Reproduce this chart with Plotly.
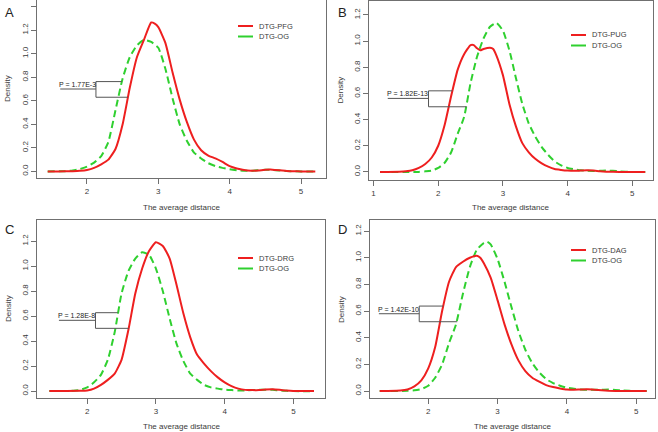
import plotly.graph_objects as go

# ---------------- data ----------------
panel_letters = ["A", "B", "C", "D"]
red_names = ["DTG-PFG", "DTG-PUG", "DTG-DRG", "DTG-DAG"]
green_name = "DTG-OG"
p_texts = ["P = 1.77E-3", "P = 1.82E-13", "P = 1.28E-8", "P = 1.42E-10"]

A_red_x = [1.45, 1.6, 1.8, 1.9, 2.0, 2.1, 2.2, 2.3, 2.4, 2.5, 2.6, 2.7, 2.8, 2.9, 2.95, 3.0, 3.1, 3.2, 3.3,
           3.4, 3.5, 3.6, 3.7, 3.8, 3.9, 4.0, 4.1, 4.2, 4.3, 4.4, 4.5, 4.6, 4.7, 4.8, 4.9, 5.0, 5.2]
A_red_y = [0, 0, 0.002, 0.005, 0.012, 0.03, 0.06, 0.10, 0.19, 0.40, 0.71, 0.97, 1.12, 1.265, 1.255, 1.225,
           1.09, 0.84, 0.61, 0.42, 0.27, 0.18, 0.135, 0.11, 0.08, 0.045, 0.025, 0.012, 0.006, 0.008, 0.014,
           0.015, 0.01, 0.004, 0.001, 0, 0]
A_grn_x = [1.45, 1.7, 1.8, 1.9, 2.0, 2.1, 2.2, 2.3, 2.4, 2.5, 2.6, 2.7, 2.8, 2.9, 3.0, 3.1, 3.2, 3.3, 3.4,
           3.5, 3.6, 3.7, 3.8, 3.9, 4.0, 4.1, 4.2, 4.3, 4.4, 4.5, 4.6, 4.7, 4.8, 5.0, 5.2]
A_grn_y = [0, 0.002, 0.008, 0.02, 0.04, 0.075, 0.13, 0.25, 0.52, 0.79, 0.97, 1.07, 1.117, 1.10, 1.05, 0.87,
           0.62, 0.40, 0.26, 0.16, 0.11, 0.07, 0.045, 0.03, 0.018, 0.01, 0.006, 0.006, 0.01, 0.014, 0.012,
           0.008, 0.003, 0, 0]

B_red_x = [1.1, 1.4, 1.5, 1.6, 1.7, 1.8, 1.9, 2.0, 2.1, 2.2, 2.3, 2.4, 2.5, 2.55, 2.6, 2.65, 2.7, 2.8, 2.85,
           2.9, 3.0, 3.1, 3.2, 3.3, 3.4, 3.5, 3.6, 3.7, 3.8, 3.9, 4.0, 4.1, 4.2, 4.3, 4.4, 4.5, 4.6, 4.8, 5.2]
B_red_y = [0, 0.002, 0.005, 0.012, 0.03, 0.06, 0.11, 0.2, 0.36, 0.58, 0.78, 0.9, 0.97, 0.97, 0.945, 0.93,
           0.94, 0.95, 0.94, 0.89, 0.74, 0.52, 0.35, 0.22, 0.15, 0.1, 0.065, 0.04, 0.022, 0.015, 0.01, 0.008,
           0.01, 0.012, 0.01, 0.005, 0.002, 0, 0]
B_grn_x = [1.1, 1.7, 1.8, 1.9, 2.0, 2.1, 2.2, 2.3, 2.4, 2.5, 2.6, 2.7, 2.8, 2.9, 3.0, 3.1, 3.2, 3.3, 3.4,
           3.5, 3.6, 3.7, 3.8, 3.9, 4.0, 4.1, 4.2, 4.3, 4.4, 4.5, 4.6, 4.7, 4.8, 5.0, 5.2]
B_grn_y = [0, 0, 0.004, 0.01, 0.03, 0.07, 0.15, 0.29, 0.42, 0.68, 0.88, 1.02, 1.11, 1.14, 1.08, 0.93, 0.72,
           0.52, 0.37, 0.27, 0.19, 0.13, 0.08, 0.05, 0.03, 0.02, 0.012, 0.008, 0.007, 0.008, 0.01, 0.008,
           0.004, 0, 0]

C_red_x = [1.45, 1.9, 2.0, 2.1, 2.2, 2.3, 2.4, 2.5, 2.6, 2.7, 2.8, 2.9, 3.0, 3.1, 3.2, 3.3, 3.4, 3.5, 3.6,
           3.7, 3.8, 3.9, 4.0, 4.1, 4.2, 4.3, 4.4, 4.5, 4.6, 4.7, 4.8, 4.9, 5.0, 5.3]
C_red_y = [0, 0.002, 0.005, 0.02, 0.05, 0.09, 0.14, 0.25, 0.49, 0.78, 0.98, 1.12, 1.19, 1.16, 1.06, 0.85,
           0.62, 0.43, 0.29, 0.22, 0.16, 0.11, 0.07, 0.04, 0.02, 0.01, 0.008, 0.008, 0.012, 0.014, 0.01,
           0.004, 0.001, 0]
C_grn_x = [1.45, 1.8, 1.9, 2.0, 2.1, 2.2, 2.3, 2.4, 2.5, 2.6, 2.7, 2.8, 2.9, 3.0, 3.1, 3.2, 3.3, 3.4, 3.5,
           3.6, 3.7, 3.8, 3.9, 4.0, 4.1, 4.2, 4.3, 4.4, 4.5, 4.6, 4.7, 4.8, 4.9, 5.0, 5.3]
C_grn_y = [0, 0.003, 0.01, 0.03, 0.07, 0.13, 0.25, 0.47, 0.78, 0.96, 1.06, 1.11, 1.09, 0.98, 0.8, 0.58,
           0.38, 0.24, 0.14, 0.09, 0.05, 0.03, 0.02, 0.012, 0.008, 0.005, 0.006, 0.008, 0.01, 0.011, 0.01,
           0.005, 0.002, 0, 0]

D_red_x = [1.3, 1.6, 1.7, 1.8, 1.9, 2.0, 2.1, 2.2, 2.3, 2.4, 2.5, 2.6, 2.7, 2.75, 2.8, 2.9, 3.0, 3.1, 3.2,
           3.3, 3.4, 3.5, 3.6, 3.7, 3.8, 3.9, 4.0, 4.1, 4.2, 4.3, 4.4, 4.5, 4.6, 4.8, 5.15]
D_red_y = [0, 0.004, 0.012, 0.035, 0.08, 0.17, 0.33, 0.6, 0.82, 0.93, 0.97, 1.0, 1.015, 1.0, 0.96, 0.85,
           0.68, 0.5, 0.35, 0.23, 0.15, 0.1, 0.07, 0.045, 0.03, 0.02, 0.012, 0.01, 0.012, 0.013, 0.01,
           0.006, 0.003, 0, 0]
D_grn_x = [1.3, 1.7, 1.8, 1.9, 2.0, 2.1, 2.2, 2.3, 2.4, 2.5, 2.6, 2.7, 2.8, 2.85, 2.9, 3.0, 3.1, 3.2, 3.3,
           3.4, 3.5, 3.6, 3.7, 3.8, 3.9, 4.0, 4.1, 4.2, 4.3, 4.4, 4.5, 4.6, 4.7, 4.8, 5.0, 5.15]
D_grn_y = [0, 0.002, 0.006, 0.015, 0.04, 0.1, 0.2, 0.36, 0.5, 0.73, 0.93, 1.06, 1.11, 1.12, 1.1, 0.99, 0.82,
           0.63, 0.45, 0.31, 0.21, 0.14, 0.09, 0.06, 0.04, 0.025, 0.018, 0.012, 0.01, 0.009, 0.01, 0.012,
           0.008, 0.004, 0, 0]

red_x = [A_red_x, B_red_x, C_red_x, D_red_x]
red_y = [A_red_y, B_red_y, C_red_y, D_red_y]
grn_x = [A_grn_x, B_grn_x, C_grn_x, D_grn_x]
grn_y = [A_grn_y, B_grn_y, C_grn_y, D_grn_y]

x_tickvals = [[2, 3, 4, 5], [1, 2, 3, 4, 5], [2, 3, 4, 5], [2, 3, 4, 5]]
y_tickvals = [[0, 0.2, 0.4, 0.6, 0.8, 1.0, 1.2, 1.4], [0, 0.2, 0.4, 0.6, 0.8, 1.0, 1.2],
              [0, 0.2, 0.4, 0.6, 0.8, 1.0, 1.2], [0, 0.2, 0.4, 0.6, 0.8, 1.0, 1.2]]
y_ticktext = [["0.0", "0.2", "0.4", "0.6", "0.8", "1.0", "1.2", "1.4"]] + \
             [["0.0", "0.2", "0.4", "0.6", "0.8", "1.0", "1.2"]] * 3

# P-value bracket geometry (data units): label line x0, bracket x, y of label, top y, bottom y, top end x, bottom end x
brackets = [
    (1.626, 2.126, 0.70, 0.763, 0.63, 2.49, 2.575),
    (1.22, 1.85, 0.562, 0.62, 0.498, 2.22, 2.44),
    (1.589, 2.121, 0.566, 0.627, 0.502, 2.445, 2.605),
    (1.288, 1.87, 0.58, 0.6375, 0.52, 2.216, 2.418),
]

# ---------------- layout geometry ----------------
W, H = 658, 432
FONT = "Liberation Sans, Arial, sans-serif"
RED = "#ee1f1f"
GREEN = "#2fd02f"
AXC = "#707070"
TXT = "#3a3a3a"

# plot boxes in pixels (left, right, top, bottom)
boxes = [(37, 326, 0, 178), (369, 653, 1, 180), (37, 325, 220, 398), (370, 655, 220, 398)]
x_ranges = [[1.30, 5.35], [0.93, 5.32], [1.27, 5.46], [1.16, 5.27]]
y_ranges = [[-0.056, 1.456], [-0.062, 1.307], [-0.055, 1.368], [-0.052, 1.283]]
letter_pos = [(3, 12), (336, 12), (3, 229), (336, 229)]
legend_pos = [(238, 26), (571, 35), (238, 258), (571, 250)]
xtitle_y = [208, 208, 426, 426]

fig = go.Figure()
layout = dict(
    template="none",
    width=W, height=H, margin=dict(l=0, r=0, t=0, b=0, pad=0, autoexpand=False),
    paper_bgcolor="white", plot_bgcolor="white", showlegend=False,
    font=dict(family=FONT, size=8, color=TXT),
)
annotations = []
shapes = []


def px_x(p):
    return p / W


def px_y(p):
    return 1 - p / H


for i in range(4):
    sfx = "" if i == 0 else str(i + 1)
    xa, ya = "x" + sfx, "y" + sfx
    l, r, t, b = boxes[i]
    layout["xaxis" + sfx] = dict(
        domain=[px_x(l), px_x(r)], range=x_ranges[i], anchor=ya, automargin=False,
        showline=True, mirror=True, linecolor=AXC, linewidth=1,
        ticks="outside", ticklen=5, tickcolor=AXC, tickwidth=1,
        tickvals=x_tickvals[i], showgrid=False, zeroline=False,
        tickfont=dict(size=8, color=TXT, family=FONT),
    )
    layout["yaxis" + sfx] = dict(
        domain=[px_y(b), px_y(t)], range=y_ranges[i], anchor=xa, automargin=False,
        showline=True, mirror=True, linecolor=AXC, linewidth=1,
        ticks="outside", ticklen=5, tickcolor=AXC, tickwidth=1,
        tickvals=y_tickvals[i], ticktext=y_ticktext[i], tickangle=-90,
        showgrid=False, zeroline=False,
        tickfont=dict(size=8, color=TXT, family=FONT),
    )
    fig.add_trace(go.Scatter(x=grn_x[i], y=grn_y[i], mode="lines", xaxis=xa, yaxis=ya,
                             line=dict(color=GREEN, width=2, dash="7px,4px", shape="spline", smoothing=0.5),
                             name=green_name))
    fig.add_trace(go.Scatter(x=red_x[i], y=red_y[i], mode="lines", xaxis=xa, yaxis=ya,
                             line=dict(color=RED, width=2, shape="spline", smoothing=0.5),
                             name=red_names[i]))

    # axis titles
    annotations.append(dict(text="The average distance", xref="paper", yref="paper",
                            x=px_x((l + r) / 2), y=px_y(xtitle_y[i]), showarrow=False,
                            font=dict(size=8, color=TXT), xanchor="center", yanchor="middle"))
    annotations.append(dict(text="Density", xref="paper", yref="paper",
                            x=px_x(l - 29), y=px_y((t + b) / 2), showarrow=False, textangle=-90,
                            font=dict(size=8, color=TXT), xanchor="center", yanchor="middle"))
    # panel letter
    lx, ly = letter_pos[i]
    annotations.append(dict(text=panel_letters[i], xref="paper", yref="paper",
                            x=px_x(lx), y=px_y(ly), showarrow=False, xanchor="left", yanchor="middle",
                            font=dict(size=13, color="#222")))
    # legend
    gx, gy = legend_pos[i]
    for k, (nm, col) in enumerate([(red_names[i], RED), (green_name, GREEN)]):
        yy = gy + k * 10.5
        shapes.append(dict(type="line", xref="paper", yref="paper",
                           x0=px_x(gx), x1=px_x(gx + 15), y0=px_y(yy), y1=px_y(yy),
                           line=dict(color=col, width=2)))
        annotations.append(dict(text=nm, xref="paper", yref="paper", x=px_x(gx + 19), y=px_y(yy),
                                showarrow=False, xanchor="left", yanchor="middle",
                                font=dict(size=7.5, color=TXT)))
    # P-value bracket
    x0, xb, yl, yt, yb, xt, xbe = brackets[i]
    lc = dict(color="#555555", width=1)
    shapes.append(dict(type="line", xref=xa, yref=ya, x0=x0, x1=xb, y0=yl, y1=yl, line=lc))
    shapes.append(dict(type="line", xref=xa, yref=ya, x0=xb, x1=xb, y0=yb, y1=yt, line=lc))
    shapes.append(dict(type="line", xref=xa, yref=ya, x0=xb, x1=xt, y0=yt, y1=yt, line=lc))
    shapes.append(dict(type="line", xref=xa, yref=ya, x0=xb, x1=xbe, y0=yb, y1=yb, line=lc))
    annotations.append(dict(text=p_texts[i], xref=xa, yref=ya, x=x0, y=yl, showarrow=False,
                            xanchor="left", yanchor="bottom", xshift=-2, yshift=0, borderpad=0,
                            font=dict(size=7, color="#222")))

layout["annotations"] = annotations
layout["shapes"] = shapes
fig.update_layout(**layout)
fig.write_html("out.html", config={"displayModeBar": False},
               post_script="document.body.style.margin='0';document.body.style.padding='0';")
